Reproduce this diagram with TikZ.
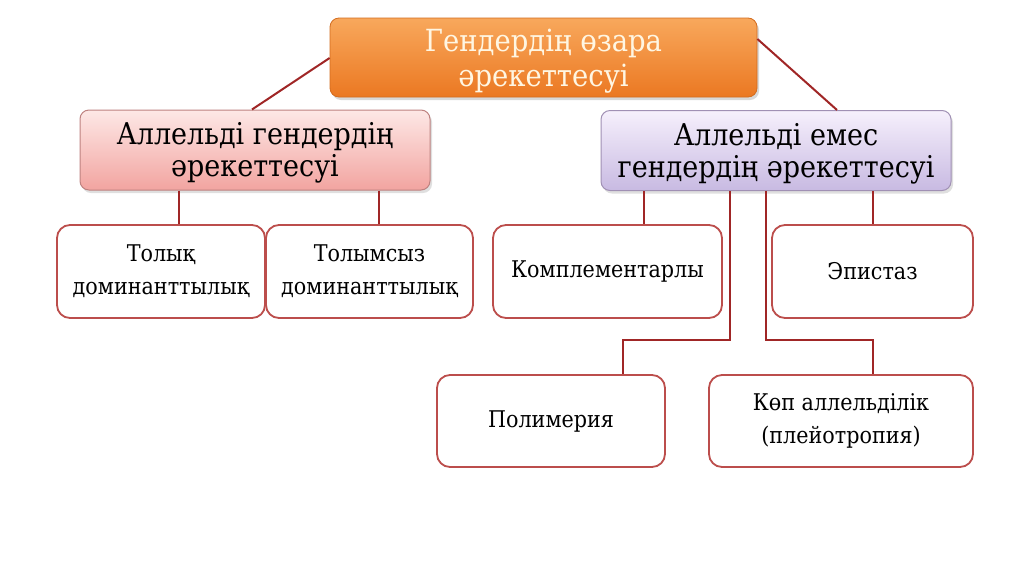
\documentclass[tikz,border=0pt]{standalone}
\usepackage{fontspec}
\setmainfont{DejaVu Serif}[FakeStretch=0.9]
\usetikzlibrary{shadows}
\definecolor{lnred}{RGB}{160,38,38}
\definecolor{bxred}{RGB}{188,78,76}
\definecolor{orTop}{RGB}{248,168,92}
\definecolor{orBot}{RGB}{235,120,34}
\definecolor{cream}{RGB}{255,246,226}
\definecolor{pkTop}{RGB}{253,232,230}
\definecolor{pkBot}{RGB}{242,164,160}
\definecolor{pkLine}{RGB}{190,130,128}
\definecolor{puTop}{RGB}{246,240,252}
\definecolor{puBot}{RGB}{200,186,226}
\definecolor{puLine}{RGB}{160,144,180}
\begin{document}
\begin{tikzpicture}[x=1pt,y=-1pt,
  topbox/.style={rounded corners=9pt, top color=orTop, bottom color=orBot, draw=orBot!90!black, line width=0.8pt,
    inner sep=0pt, minimum width=427pt, minimum height=79pt,
    drop shadow={opacity=0.3, shadow xshift=2pt, shadow yshift=-3pt}},
  toptext/.style={text=cream, font=\fontsize{30.5}{35}\selectfont, align=center, inner sep=0pt},
  pinkbox/.style={rounded corners=9pt, top color=pkTop, bottom color=pkBot, draw=pkLine, line width=1pt,
    inner sep=0pt, minimum width=350pt, minimum height=80pt,
    drop shadow={opacity=0.25, shadow xshift=2pt, shadow yshift=-3pt}},
  purplebox/.style={pinkbox, top color=puTop, bottom color=puBot, draw=puLine},
  midtext/.style={font=\fontsize{30}{32}\selectfont, align=center, inner sep=0pt},
  leafbox/.style={rounded corners=13pt, fill=white, draw=bxred, line width=1.8pt,
    font=\fontsize{23}{33}\selectfont, align=center, inner sep=0pt,
    minimum height=93pt},
  conn/.style={draw=lnred, line width=2pt}
]
\useasboundingbox (0,0) rectangle (1024,574);
\fill[white] (0,0) rectangle (1024,574);

\node[topbox] (top) at (543.5,57.5) {};
\node[toptext] (topt) at ([yshift=-4pt]top.center) {Гендердің өзара\\әрекеттесуі};
\node[pinkbox] (L) at (255,150) {};
\node[midtext] (Lt) at ([yshift=-3pt]L.center) {Аллельді гендердің\\әрекеттесуі};
\node[purplebox] (R) at (776,150.5) {};
\node[midtext] (Rt) at ([yshift=-3pt]R.center) {Аллельді емес\\гендердің әрекеттесуі};

\node[leafbox, minimum width=208pt] (a1) at (161,271.5) {Толық\\доминанттылық};
\node[leafbox, minimum width=207pt] (a2) at (369.5,271.5) {Толымсыз\\доминанттылық};
\node[leafbox, minimum width=229pt] (b1) at (607.5,271.5) {Комплементарлы};
\node[leafbox, minimum width=201pt] (b2) at (872.5,271.5) {Эпистаз};
\node[leafbox, minimum width=228pt, minimum height=92pt] (c1) at (551,421) {Полимерия};
\node[leafbox, minimum width=264pt, minimum height=92pt] (c2) at (841,421) {Көп аллельділік\\(плейотропия)};

\draw[conn] ([yshift=-0.5pt]top.west) -- ([xshift=-3pt]L.north);
\draw[conn] ([yshift=18.5pt]top.east) -- ([xshift=61pt]R.north);
\draw[conn] (L.south -| 179,0) -- (a1.north -| 179,0);
\draw[conn] (L.south -| 379,0) -- (a2.north -| 379,0);
\draw[conn] (R.south -| 644,0) -- (b1.north -| 644,0);
\draw[conn] (R.south -| 873,0) -- (b2.north -| 873,0);
\draw[conn] (R.south -| 730,0) -- (730,340) -- (623,340) -- (c1.north -| 623,0);
\draw[conn] (R.south -| 766,0) -- (766,340) -- (873,340) -- (c2.north -| 873,0);
\end{tikzpicture}
\end{document}
